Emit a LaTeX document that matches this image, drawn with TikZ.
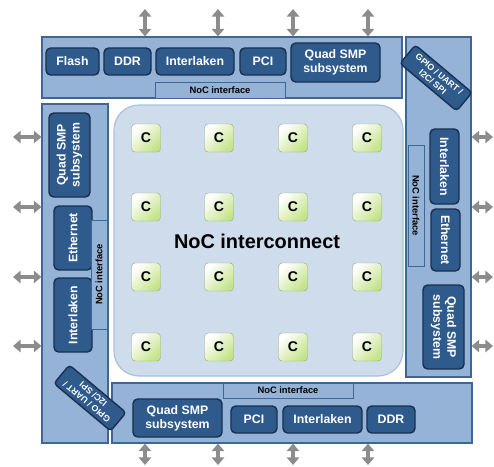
\documentclass[tikz,border=0pt]{standalone}
\usepackage{fontspec}
\setmainfont{Liberation Sans}
\usetikzlibrary{arrows.meta, fit, positioning}
\definecolor{panelblue}{HTML}{95B3D7}
\definecolor{paneledge}{HTML}{3F6695}
\definecolor{blockblue}{HTML}{2F5A8C}
\definecolor{blockedge}{HTML}{1A3050}
\definecolor{nocfill}{HTML}{CEDCEC}
\definecolor{nocedge}{HTML}{A9C1DE}
\definecolor{coregreen}{HTML}{C5E38A}
\definecolor{coreedge}{HTML}{9AAE7E}
\definecolor{iogray}{HTML}{8C8C8C}
\tikzset{
    panel/.style={
        rectangle, draw=paneledge, line width=1pt,
        fill=panelblue, inner sep=0pt
    },
    block/.style={
        rectangle, draw=blockedge, line width=1.2pt, rounded corners=4pt,
        fill=blockblue, text=white, align=center, inner sep=1pt,
        font=\fontsize{10.5}{12}\selectfont\bfseries
    },
    nocif/.style={
        rectangle, draw=paneledge, line width=0.8pt, fill=panelblue,
        inner sep=0pt, font=\fontsize{8}{9}\selectfont\bfseries
    },
    gpio/.style={
        block, rounded corners=3pt, minimum width=2.22cm, minimum height=0.72cm,
        font=\fontsize{7.5}{8.5}\selectfont\bfseries
    },
    core/.style={
        rectangle, rounded corners=3pt, draw=coreedge,
        top color=white, bottom color=coregreen, shading angle=45,
        minimum width=0.87cm, minimum height=0.84cm,
        font=\fontsize{12}{12}\selectfont\bfseries
    },
    io/.style={draw=iogray, line width=4pt,
        {Triangle[length=6.5pt,width=10.5pt]}-{Triangle[length=6.5pt,width=10.5pt]}}
}

\begin{document}
\begin{tikzpicture}[x=0.03cm, y=-0.03cm]
\useasboundingbox (0,0) rectangle (494,467);

% Panels around the chip
\node[panel, fit={(42,37) (402,98)}] (ptop) {};
\node[panel, fit={(406,37) (471,377)}] (pright) {};
\node[panel, fit={(42,104) (108,443)}] (pleft) {};
\node[panel, fit={(112,383) (472,443)}] (pbot) {};

% NoC region
\node[fill=nocfill, draw=nocedge, line width=1pt, rounded corners=0.75cm,
      inner sep=0pt, fit={(114,105) (403,376)}] (noc) {};
\node[font=\fontsize{17}{18}\selectfont\bfseries] (noclabel) at (257,241) {NoC interconnect};

% GPIO corners
\node[gpio, rotate=-40] (gpiotr) at (436,78) {GPIO / UART /\\I2C/ SPI};
\node[gpio, rotate=140] (gpiobl) at (90,398) {GPIO / UART /\\I2C/ SPI};

% Top panel
\node[block, minimum width=1.59cm, minimum height=0.81cm] (tflash) at (72.5,61.5) {Flash};
\node[block, minimum width=1.41cm, minimum height=0.81cm] (tddr) at (127.5,61.5) {DDR};
\node[block, minimum width=2.34cm, minimum height=0.81cm] (tilk) at (195,61.5) {Interlaken};
\node[block, minimum width=1.38cm, minimum height=0.81cm] (tpci) at (263,61.5) {PCI};
\node[block, minimum width=2.67cm, minimum height=1.17cm] (tquad) at (335.5,62.5) {Quad SMP\\subsystem};
\node[nocif, minimum width=3.9cm, minimum height=0.48cm] (tnoc) at (220,90) {NoC interface};

% Bottom panel
\node[block, minimum width=2.67cm, minimum height=1.14cm] (bquad) at (177.5,418) {Quad SMP\\subsystem};
\node[block, minimum width=1.38cm, minimum height=0.81cm] (bpci) at (254,419.5) {PCI};
\node[block, minimum width=2.37cm, minimum height=0.81cm] (bilk) at (322.5,419.5) {Interlaken};
\node[block, minimum width=1.44cm, minimum height=0.81cm] (bddr) at (391,419.5) {DDR};
\node[nocif, minimum width=3.9cm, minimum height=0.45cm] (bnoc) at (288,390.5) {NoC interface};

% Left panel
\node[block, rotate=90, minimum width=2.52cm, minimum height=1.23cm] (lquad) at (69.5,155) {Quad SMP\\subsystem};
\node[block, rotate=90, minimum width=1.92cm, minimum height=1.14cm] (leth) at (73,238) {Ethernet};
\node[block, rotate=90, minimum width=2.22cm, minimum height=1.14cm] (lilk) at (73,315) {Interlaken};
\node[nocif, rotate=90, minimum width=3.27cm, minimum height=0.48cm] (lnoc) at (99,274.5) {NoC interface};

% Right panel
\node[block, rotate=-90, minimum width=2.25cm, minimum height=0.87cm] (rilk) at (444.5,166.5) {Interlaken};
\node[block, rotate=-90, minimum width=1.86cm, minimum height=0.87cm] (reth) at (445.5,240) {Ethernet};
\node[block, rotate=-90, minimum width=2.52cm, minimum height=1.23cm] (rquad) at (443.5,327) {Quad SMP\\subsystem};
\node[nocif, rotate=-90, minimum width=3.63cm, minimum height=0.48cm] (rnoc) at (416,205.5) {NoC interface};

% Cores
\foreach \x [count=\i] in {146,219,293,367}
  \foreach \y [count=\j] in {138,207,277,347}
    \node[core] (c\i\j) at (\x,\y) {C};

% I/O arrows
\foreach \x [count=\i] in {145,218,293,368} {
  \coordinate (tio\i) at (\x,9);
  \coordinate (bio\i) at (\x,465);
  \draw[io] (tio\i) -- (tio\i |- ptop.north);
  \draw[io] (bio\i) -- (bio\i |- pbot.south);
}
\foreach \y [count=\i] in {137,207,277,346} {
  \coordinate (lio\i) at (13,\y);
  \coordinate (rio\i) at (493,\y);
  \draw[io] (lio\i) -- (lio\i -| pleft.west);
  \draw[io] (rio\i) -- (rio\i -| pright.east);
}

\end{tikzpicture}
\end{document}
